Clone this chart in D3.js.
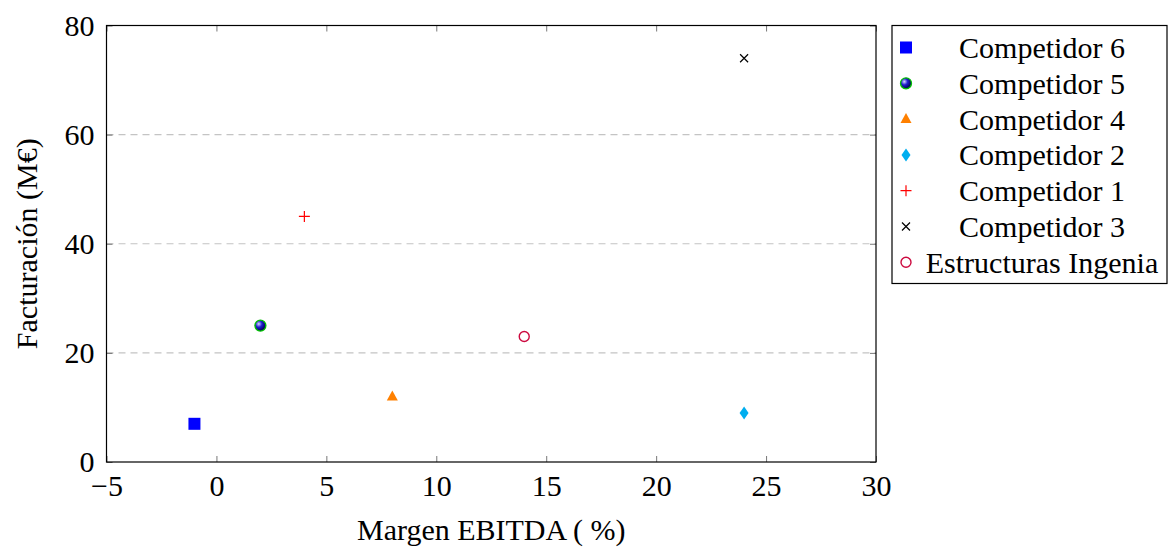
<!DOCTYPE html>
<head>
<meta charset="utf-8">
<title>Margen EBITDA vs Facturación</title>
<style>
    body { margin: 0; background: white; }
    text { font-family: "Liberation Serif", serif; fill: black; }
    .grid line { stroke: #c4c4c4; stroke-dasharray: 7,5; stroke-width: 1.2px; }
</style>
</head>
<body>
<svg></svg>
<script src="https://cdn.jsdelivr.net/npm/d3@7"></script>
<script>

    // data
    var names = ["Competidor 6", "Competidor 5", "Competidor 4", "Competidor 2", "Competidor 1", "Competidor 3", "Estructuras Ingenia"];
    var margen = [-1, 2, 8, 24, 4, 24, 14];
    var facturacion = [7, 25, 12, 9, 45, 74, 23];
    var xTicks = [-5, 0, 5, 10, 15, 20, 25, 30];
    var yTicks = [0, 20, 40, 60, 80];

    var colors = ["#0000ff", "#2a2ad0", "#ff8000", "#00aeef", "#ff0000", "#000000", "#cc0a3f"];
    var shapes = ["square", "ball", "triangle", "diamond", "plus", "cross", "circle"];

    var fontSize = 30;

    var svg = d3.select("svg")
        .attr("width", 1169)
        .attr("height", 547);

    var defs = svg.append("defs");
    var grad = defs.append("radialGradient")
        .attr("id", "ballgrad")
        .attr("cx", "35%").attr("cy", "35%").attr("r", "65%");
    grad.append("stop").attr("offset", "0%").attr("stop-color", "#d8d8ff");
    grad.append("stop").attr("offset", "45%").attr("stop-color", "#2020d0");
    grad.append("stop").attr("offset", "100%").attr("stop-color", "#000050");

    var margin = {top: 25.5, left: 106.5, right: 293, bottom: 85},
        width = 1169 - margin.left - margin.right,
        height = 547 - margin.top - margin.bottom;

    var g = svg.append("g")
        .attr("transform", "translate(" + margin.left + "," + margin.top + ")");

    var x = d3.scaleLinear().domain([-5, 30]).range([0, width]);
    var y = d3.scaleLinear().domain([0, 80]).range([height, 0]);

    // dashed horizontal grid
    g.append("g").attr("class", "grid")
        .selectAll("line")
        .data(yTicks.filter(function (d) { return d > 0 && d < 80; }))
        .enter().append("line")
        .attr("x1", 0).attr("x2", width)
        .attr("y1", function (d) { return y(d); })
        .attr("y2", function (d) { return y(d); });

    function fmt(d) { return d < 0 ? "\u2212" + Math.abs(d) : d; }

    // inward ticks on all four sides
    var xb = g.append("g").attr("transform", "translate(0," + height + ")")
        .call(d3.axisBottom(x).tickValues(xTicks).tickSize(-6).tickPadding(11).tickFormat(fmt));
    var yl = g.append("g")
        .call(d3.axisLeft(y).tickValues(yTicks).tickSize(-6).tickPadding(12));
    g.append("g")
        .call(d3.axisTop(x).tickValues(xTicks).tickSize(-6).tickFormat(""));
    g.append("g").attr("transform", "translate(" + width + ",0)")
        .call(d3.axisRight(y).tickValues(yTicks).tickSize(-6).tickFormat(""));

    g.selectAll(".domain").remove();
    g.selectAll(".tick line").attr("stroke", "#555").attr("stroke-width", 0.8);
    xb.selectAll("text").attr("dy", "0.75em");
    svg.selectAll(".tick text")
        .attr("font-family", "Liberation Serif")
        .attr("font-size", fontSize)
        .attr("fill", "black");

    g.append("rect")
        .attr("width", width).attr("height", height)
        .attr("fill", "none").attr("stroke", "black").attr("stroke-width", 1.2);

    // axis titles
    g.append("text")
        .attr("x", width / 2).attr("y", height + 78)
        .attr("text-anchor", "middle")
        .attr("font-size", fontSize)
        .text("Margen EBITDA ( %)");

    g.append("text")
        .attr("transform", "translate(-70," + height / 2 + ") rotate(-90)")
        .attr("text-anchor", "middle")
        .attr("font-size", fontSize)
        .text("Facturación (M€)");

    function marker(sel, shape, color) {
        if (shape === "square") {
            sel.append("rect").attr("x", -6).attr("y", -6).attr("width", 12).attr("height", 12).attr("fill", color);
        } else if (shape === "ball") {
            sel.append("circle").attr("r", 5.5).attr("fill", "url(#ballgrad)").attr("stroke", "#00c000").attr("stroke-width", 1.3);
        } else if (shape === "triangle") {
            sel.append("path").attr("d", "M0,-6L5.5,4L-5.5,4Z").attr("fill", color);
        } else if (shape === "diamond") {
            sel.append("path").attr("d", "M0,-6.5L4.5,0L0,6.5L-4.5,0Z").attr("fill", color);
        } else if (shape === "plus") {
            sel.append("path").attr("d", "M-5.5,0H5.5M0,-5.5V5.5").attr("stroke", color).attr("stroke-width", 1.2);
        } else if (shape === "cross") {
            sel.append("path").attr("d", "M-4,-4L4,4M-4,4L4,-4").attr("stroke", color).attr("stroke-width", 1.2);
        } else if (shape === "circle") {
            sel.append("circle").attr("r", 5).attr("fill", "none").attr("stroke", color).attr("stroke-width", 1.4);
        }
    }

    var idx = d3.range(names.length);

    g.selectAll(".pt")
        .data(idx)
        .enter().append("g")
        .attr("class", "pt")
        .attr("transform", function (i) { return "translate(" + x(margen[i]) + "," + y(facturacion[i]) + ")"; })
        .each(function (i) { marker(d3.select(this), shapes[i], colors[i]); });

    // legend
    var legend = svg.append("g").attr("transform", "translate(892,25.5)");
    legend.append("rect")
        .attr("width", 275).attr("height", 258)
        .attr("fill", "white").attr("stroke", "black").attr("stroke-width", 1.2);

    var row = legend.selectAll(".row")
        .data(idx)
        .enter().append("g")
        .attr("class", "row")
        .attr("transform", function (i) { return "translate(0," + (22 + i * 35.8) + ")"; });

    row.append("g").attr("transform", "translate(14,0)")
        .each(function (i) { marker(d3.select(this), shapes[i], colors[i]); });

    row.append("text")
        .attr("x", 150).attr("dy", "0.35em")
        .attr("text-anchor", "middle")
        .attr("font-size", fontSize)
        .text(function (i) { return names[i]; });

</script>
</body>
